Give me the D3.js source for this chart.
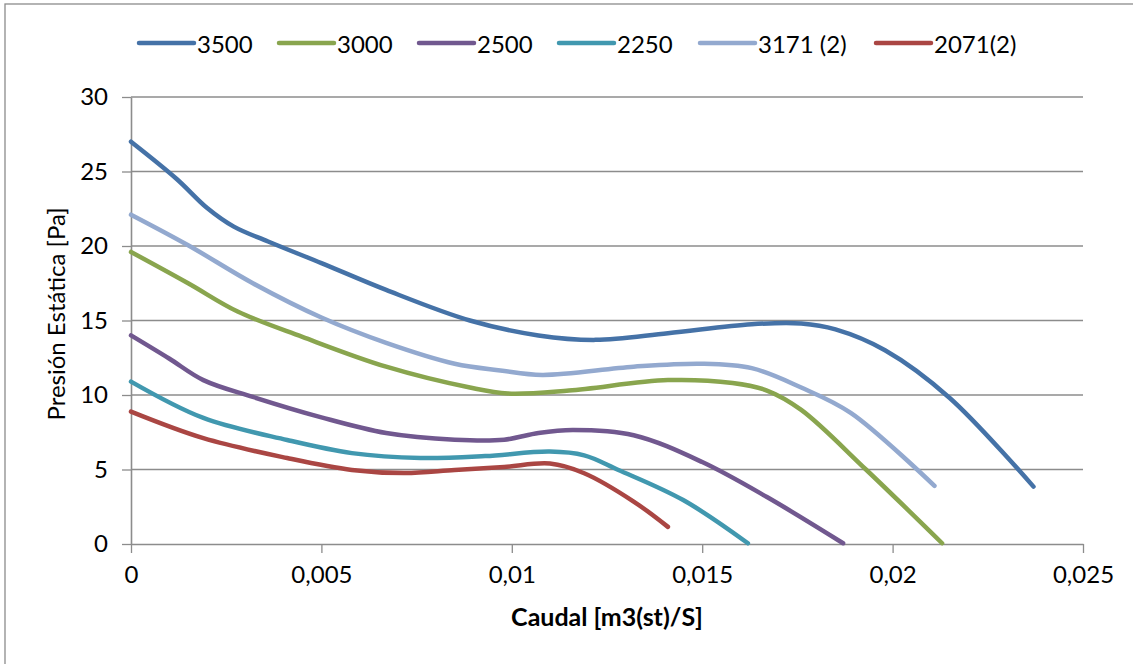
<!DOCTYPE html>
<html>
<head>
<meta charset="utf-8">
<script src="https://cdn.jsdelivr.net/npm/d3@7"></script>
<style>
  body { margin: 0; background: #fff; }
  svg text { font-family: Lato, "Open Sans", sans-serif; fill: #000; }
</style>
</head>
<body>
<div id="chart"></div>
<script>
// series names, colors, points [caudal, presion]
const seriesNames = ["3500", "3000", "2500", "2250", "3171 (2)", "2071(2)"];
const seriesColors = ["#4572A7", "#89A54E", "#71588F", "#4198AF", "#93A9CF", "#AA4643"];

const s3500 = [[0,27.0],[0.0012,24.5],[0.002,22.55],[0.0027,21.3],[0.0036,20.3],[0.005,18.85],
  [0.0067,17.05],[0.0089,15.0],[0.0107,14.0],[0.0122,13.7],[0.0141,14.15],[0.0163,14.75],[0.0176,14.8],
  [0.0185,14.4],[0.0198,13.0],[0.0215,9.8],[0.0237,3.85]];
const s3000 = [[0,19.6],[0.0015,17.5],[0.0028,15.6],[0.0045,13.9],[0.0067,11.9],[0.0089,10.5],[0.0099,10.1],
  [0.0115,10.3],[0.0141,11.0],[0.0158,10.8],[0.0167,10.3],[0.0176,9.0],[0.0193,5.0],[0.0213,0.05]];
const s2500 = [[0,14.0],[0.001,12.45],[0.0019,11.0],[0.0032,9.87],[0.005,8.5],[0.0067,7.45],[0.0085,7.0],
  [0.0098,7.0],[0.0107,7.45],[0.0116,7.65],[0.0132,7.3],[0.015,5.5],[0.0167,3.15],[0.0187,0.05]];
const s2250 = [[0,10.9],[0.0019,8.46],[0.0041,6.98],[0.0058,6.1],[0.0076,5.77],[0.0093,5.9],[0.011,6.2],
  [0.0119,5.95],[0.0128,4.97],[0.0145,2.95],[0.0162,0.05]];
const s3171 = [[0,22.1],[0.0015,20.05],[0.0032,17.5],[0.005,15.2],[0.0067,13.5],[0.0085,12.1],[0.0097,11.65],
  [0.0108,11.35],[0.0132,11.9],[0.015,12.1],[0.0163,11.8],[0.0176,10.5],[0.0189,8.8],[0.0211,3.9]];
const s2071 = [[0,8.88],[0.0019,7.1],[0.0041,5.77],[0.0058,4.97],[0.0072,4.76],[0.0085,4.97],[0.0098,5.17],
  [0.011,5.4],[0.0119,4.75],[0.0132,2.85],[0.0141,1.15]];

const xTicks = [0, 0.005, 0.01, 0.015, 0.02, 0.025];
const xTickLabels = ["0", "0,005", "0,01", "0,015", "0,02", "0,025"];
const yTicks = [0, 5, 10, 15, 20, 25, 30];

const allSeries = [s3500, s3000, s2500, s2250, s3171, s2071];

const width = 1133, height = 664;
const margin = {top: 97, right: 50, bottom: 120, left: 131};
const grid = "#8c8c8c";

const svg = d3.select("#chart").append("svg")
  .attr("width", width)
  .attr("height", height);

// outer chart border
svg.append("rect")
  .attr("x", 5).attr("y", 4)
  .attr("width", width + 20).attr("height", height + 20)
  .attr("fill", "none")
  .attr("stroke", grid)
  .attr("stroke-width", 1.3);

const x = d3.scaleLinear().domain([0, 0.025]).range([margin.left, width - margin.right]);
const y = d3.scaleLinear().domain([0, 30]).range([height - margin.bottom, margin.top]);

// horizontal gridlines
svg.append("g")
  .selectAll("line")
  .data(yTicks.filter(d => d > 0))
  .join("line")
  .attr("x1", x(0)).attr("x2", x(0.025))
  .attr("y1", d => y(d)).attr("y2", d => y(d))
  .attr("stroke", grid).attr("stroke-width", 1.3);

// y axis
const yAxis = svg.append("g")
  .attr("transform", "translate(" + x(0) + ",0)")
  .call(d3.axisLeft(y).tickValues(yTicks).tickSize(9).tickPadding(14).tickSizeOuter(0));
yAxis.select(".domain").attr("stroke", grid).attr("stroke-width", 1.6);
yAxis.selectAll(".tick line").attr("stroke", grid).attr("stroke-width", 1.3);
yAxis.selectAll(".tick text").style("font-size", "24px").attr("fill", "#000");

// x axis
const xAxis = svg.append("g")
  .attr("transform", "translate(0," + y(0) + ")")
  .call(d3.axisBottom(x).tickValues(xTicks).tickFormat((d, i) => xTickLabels[i]).tickSize(9).tickPadding(13).tickSizeOuter(0));
xAxis.select(".domain").attr("stroke", grid).attr("stroke-width", 1.6);
xAxis.selectAll(".tick line").attr("stroke", grid).attr("stroke-width", 1.3);
xAxis.selectAll(".tick text").style("font-size", "24px").attr("fill", "#000");

// axis titles
svg.append("text")
  .attr("x", 607).attr("y", 616)
  .attr("text-anchor", "middle")
  .attr("dominant-baseline", "central")
  .style("font-size", "25px")
  .style("font-weight", "bold")
  .text("Caudal [m3(st)/S]");

svg.append("text")
  .attr("transform", "translate(55,314) rotate(-90)")
  .attr("text-anchor", "middle")
  .attr("dominant-baseline", "central")
  .style("font-size", "24px")
  .text("Presión Estática [Pa]");

// curves
const line = d3.line()
  .x(d => x(d[0]))
  .y(d => y(d[1]))
  .curve(d3.curveCatmullRom.alpha(0.5));

svg.append("g")
  .selectAll("path")
  .data(allSeries)
  .join("path")
  .attr("d", d => line(d))
  .attr("fill", "none")
  .attr("stroke", (d, i) => seriesColors[i])
  .attr("stroke-width", 4.5)
  .attr("stroke-linecap", "round")
  .attr("stroke-linejoin", "round");

// legend
const legendX = [139, 279, 419, 559, 700, 876];
const legend = svg.append("g")
  .selectAll("g")
  .data(seriesNames)
  .join("g")
  .attr("transform", (d, i) => "translate(" + legendX[i] + ",43)");
legend.append("line")
  .attr("x1", 0).attr("x2", 55)
  .attr("stroke", (d, i) => seriesColors[i])
  .attr("stroke-width", 4.5)
  .attr("stroke-linecap", "round");
legend.append("text")
  .attr("x", 58)
  .attr("dominant-baseline", "central")
  .style("font-size", "24px")
  .text(d => d);
</script>
</body>
</html>
